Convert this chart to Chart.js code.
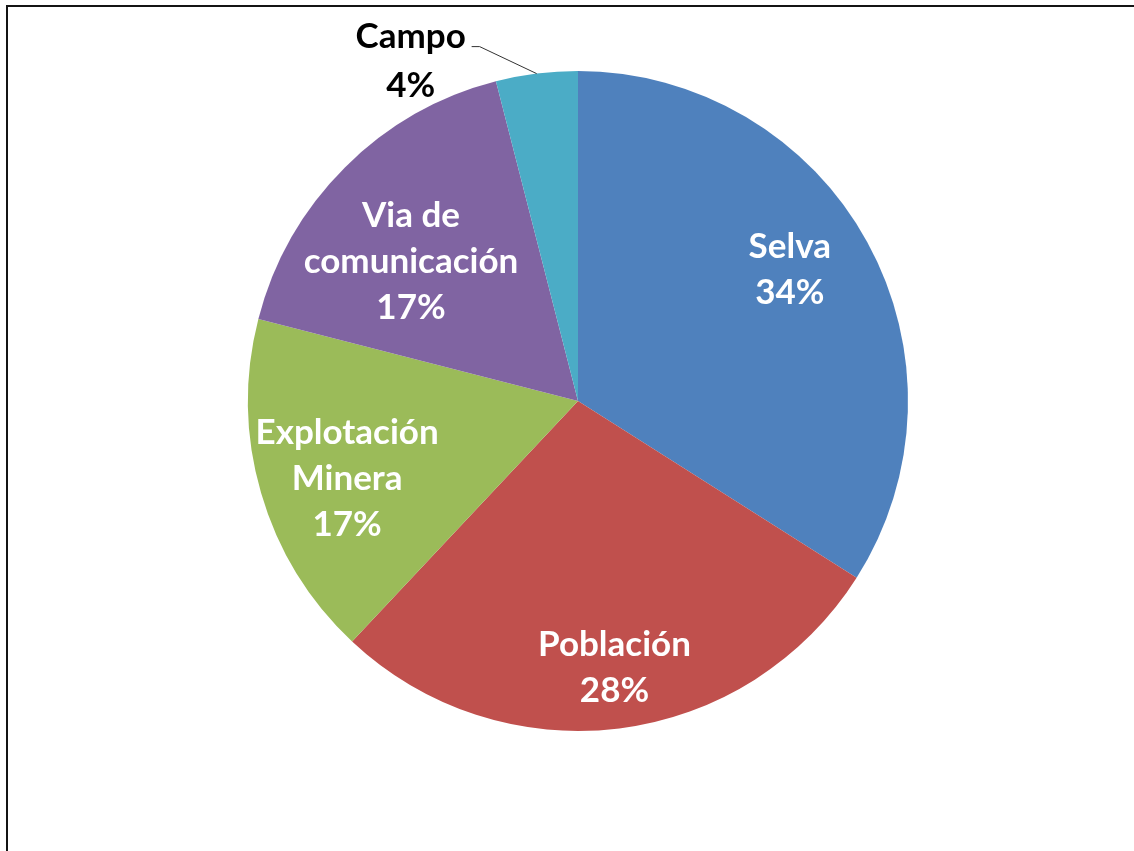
<!DOCTYPE html>
<html>
<head>
<meta charset="utf-8">
<script src="https://cdn.jsdelivr.net/npm/chart.js@4/dist/chart.umd.min.js"></script>
<style>
  html, body { margin: 0; padding: 0; background: #ffffff; }
  #wrap { position: relative; width: 1134px; height: 851px; }
</style>
</head>
<body>
<div id="wrap"><canvas id="c" width="1134" height="851"></canvas></div>
<script>
// ---- data ----
const categories = ['Selva', 'Población', 'Explotación Minera', 'Via de comunicación', 'Campo'];
const values = [34, 28, 17, 17, 4];
const labelLines = [['Selva'], ['Población'], ['Explotación', 'Minera'], ['Via de', 'comunicación'], ['Campo']];

// ---- styling / placement (kept separate from data) ----
const colors = ['#4F81BD', '#C0504D', '#9BBB59', '#8064A2', '#4BACC6'];
const FONT_SIZE = 35;
const FONT = 'bold ' + FONT_SIZE + 'px Lato, "Open Sans", sans-serif';
const LINE_H = 46;
// inside labels: radial fraction + pixel nudge; outside: offsets from arc edge
const placement = [
  { inside: true, frac: 0.76, dx: -8, dy: -12 },
  { inside: true, frac: 0.81, dx: 3, dy: 0 },
  { inside: true, frac: 0.735, dx: 2, dy: 9 },
  { inside: true, frac: 0.66, dx: -13, dy: 13 },
  { inside: false, elbow: [-57, -27], end: [-65, -27], text: [-126, -14], lh: 49 }
];

const total = values.reduce((a, b) => a + b, 0);

const framePlugin = {
  id: 'frame',
  beforeDraw(chart) {
    const ctx = chart.ctx;
    ctx.save();
    ctx.fillStyle = '#ffffff';
    ctx.fillRect(0, 0, chart.width, chart.height);
    ctx.fillStyle = '#141414';
    ctx.fillRect(6, 5, chart.width - 6, 2);
    ctx.fillRect(6, 5, 2, chart.height - 5);
    ctx.restore();
  }
};

const labelPlugin = {
  id: 'sliceLabels',
  afterDatasetsDraw(chart) {
    const ctx = chart.ctx;
    const meta = chart.getDatasetMeta(0);
    ctx.save();
    ctx.font = FONT;
    ctx.textAlign = 'center';
    ctx.textBaseline = 'alphabetic';
    meta.data.forEach((arc, i) => {
      const p = arc.getProps(['x', 'y', 'startAngle', 'endAngle', 'outerRadius'], true);
      const mid = (p.startAngle + p.endAngle) / 2;
      const pct = Math.round(values[i] / total * 100) + '%';
      const lines = labelLines[i].concat([pct]);
      const pl = placement[i];
      let cx, cy, lh = LINE_H;
      if (pl.inside) {
        cx = p.x + Math.cos(mid) * p.outerRadius * pl.frac + pl.dx;
        cy = p.y + Math.sin(mid) * p.outerRadius * pl.frac + pl.dy;
        ctx.fillStyle = '#ffffff';
      } else {
        const ex = p.x + Math.cos(mid) * p.outerRadius;
        const ey = p.y + Math.sin(mid) * p.outerRadius;
        ctx.strokeStyle = '#333333';
        ctx.lineWidth = 1;
        ctx.beginPath();
        ctx.moveTo(ex, ey);
        ctx.lineTo(ex + pl.elbow[0], ey + pl.elbow[1]);
        ctx.lineTo(ex + pl.end[0], ey + pl.end[1]);
        ctx.stroke();
        cx = ex + pl.text[0];
        cy = ey + pl.text[1];
        lh = pl.lh;
        ctx.fillStyle = '#000000';
      }
      const n = lines.length;
      lines.forEach((t, k) => {
        const capCenter = cy + (k - (n - 1) / 2) * lh;
        ctx.fillText(t, cx, capCenter + 0.36 * FONT_SIZE);
      });
    });
    ctx.restore();
  }
};

new Chart(document.getElementById('c'), {
  type: 'pie',
  data: {
    labels: categories,
    datasets: [{
      data: values,
      backgroundColor: colors,
      borderWidth: 0
    }]
  },
  options: {
    responsive: false,
    animation: false,
    layout: { padding: { left: 22, right: 0, top: 71, bottom: 120 } },
    plugins: {
      legend: { display: false },
      tooltip: { enabled: false }
    }
  },
  plugins: [framePlugin, labelPlugin]
});
</script>
</body>
</html>
